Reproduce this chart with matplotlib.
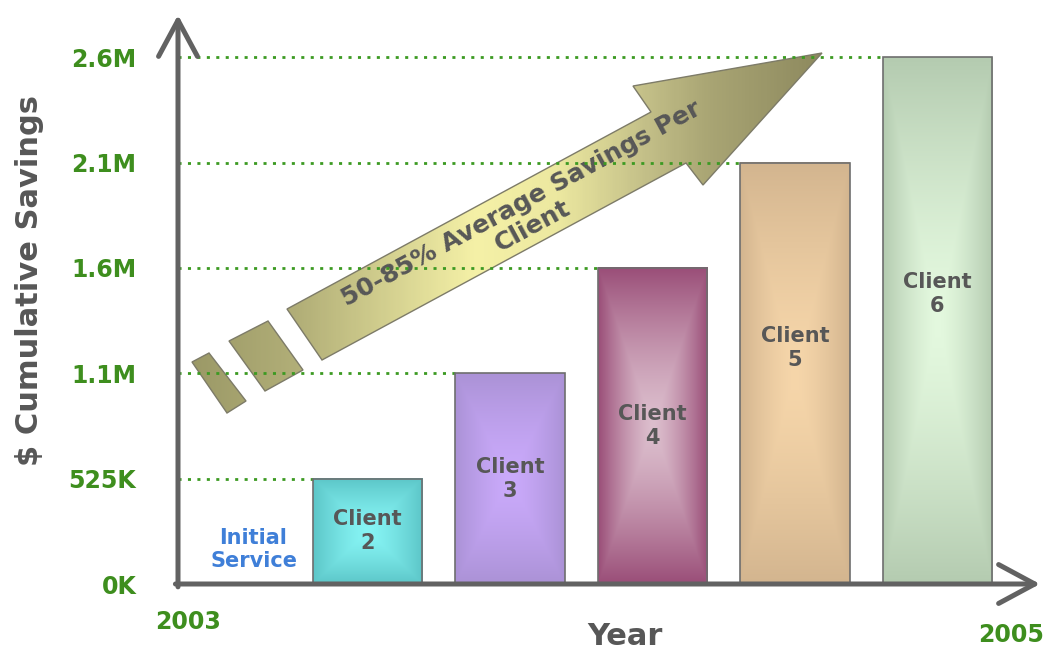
import numpy as np
import matplotlib
matplotlib.use('Agg')
import matplotlib.pyplot as plt
from matplotlib.colors import to_rgb, LinearSegmentedColormap
from matplotlib.patches import Polygon

plt.rcParams['font.family'] = 'DejaVu Sans'

# data --------------------------------------------------------------
clients = ['Client\n2', 'Client\n3', 'Client\n4', 'Client\n5', 'Client\n6']
savings_k = [525, 1100, 1600, 2100, 2600]
tick_values = [0, 525, 1100, 1600, 2100, 2600]
tick_labels = ['0K', '525K', '1.1M', '1.6M', '2.1M', '2.6M']
edge_colors = ['#5cc6c8', '#ab92d6', '#9a4e78', '#d3b58f', '#b4cbb0']
center_colors = ['#86f4f4', '#caaafb', '#dcbecd', '#f6d6aa', '#e4f9df']
label_frac = [0.5, 0.5, 0.5, 0.56, 0.55]

green = '#3e8e1e'
gray_txt = '#575757'
axis_gray = '#626262'

# y axis: tick values are equally spaced on the chart
scale_vals = tick_values + [3100]
scale_pos = list(range(len(scale_vals)))


def forward(v):
    return np.interp(v, scale_vals, scale_pos)


def inverse(p):
    return np.interp(p, scale_pos, scale_vals)


fig = plt.figure(figsize=(10.48, 6.52), dpi=100)
bg = fig.add_axes([0, 0, 1, 1], zorder=0)
bg.axis('off')
ax = fig.add_axes([178 / 1048, 68 / 652, 862 / 1048, 569 / 652], zorder=1)
ax.patch.set_alpha(0)

ax.set_yscale('function', functions=(forward, inverse))
ax.set_xlim(-0.33, 5.72)
ax.set_ylim(0, 2800)

x = np.arange(1, len(savings_k) + 1)
width = 0.766
bars = ax.bar(x, savings_k, width=width, facecolor='none',
              edgecolor='#6e6e6e', lw=1.2, zorder=3)

# dotted guide lines from the axis to each bar
ax.hlines(savings_k, ax.get_xlim()[0], x - width / 2, colors='#3c9a22',
          lw=2.0, linestyles=(0, (1.1, 2.3)), zorder=2)

for xi, v, lab, f in zip(x, savings_k, clients, label_frac):
    ax.text(xi, inverse(forward(v) * f), lab, ha='center', va='center',
            fontsize=15, fontweight='bold', color=gray_txt, zorder=4,
            linespacing=1.25)

ax.text(0.2, 0.06, 'Initial\nService', transform=ax.get_xaxis_transform(),
        ha='center', va='center', fontsize=15, fontweight='bold',
        color='#3f7fd8', linespacing=1.2)

# axes with arrow heads
for spine in ax.spines.values():
    spine.set_visible(False)
arrow_kw = dict(arrowstyle='->,head_length=1.3,head_width=0.7', lw=3.6,
                color=axis_gray, shrinkA=0, shrinkB=0, mutation_scale=20)
ax.annotate('', xy=(0, 1), xytext=(0, -0.005), xycoords='axes fraction',
            arrowprops=arrow_kw, annotation_clip=False)
ax.annotate('', xy=(1, 0), xytext=(-0.003, 0), xycoords='axes fraction',
            arrowprops=arrow_kw, annotation_clip=False)

ax.set_xticks([])
ax.set_yticks(tick_values, tick_labels)
ax.tick_params(axis='y', length=0, pad=30, labelsize=17, labelcolor=green)
for t in ax.get_yticklabels():
    t.set_fontweight('bold')

ax.set_ylabel('$ Cumulative Savings', fontsize=22, fontweight='bold',
              color=gray_txt, va='center')
ax.yaxis.set_label_coords(-0.172, 0.534)
ax.set_xlabel('Year', fontsize=22, fontweight='bold', color=gray_txt,
              va='center')
ax.xaxis.set_label_coords(0.5186, -0.0914)

ax.text(0.0116, -0.067, '2003', transform=ax.transAxes, ha='center',
        va='center', fontsize=17, fontweight='bold', color=green)
ax.text(0.966, -0.090, '2005', transform=ax.transAxes, ha='center',
        va='center', fontsize=17, fontweight='bold', color=green)

# gradient fills for the bars (drawn underneath in pixel space)
fig.canvas.draw()
u = np.linspace(-1, 1, 120)
vv = np.linspace(-1, 1, 240)
U, V = np.meshgrid(u, vv)
tt = np.maximum(np.abs(U), np.abs(V)) ** 1.4
for bar, ce, cc in zip(bars, edge_colors, center_colors):
    bb = bar.get_window_extent()
    img = (np.array(to_rgb(cc))[None, None, :] * (1 - tt)[..., None]
           + np.array(to_rgb(ce))[None, None, :] * tt[..., None])
    bg.imshow(img, extent=(bb.x0, bb.x1, bb.y0, bb.y1), aspect='auto',
              interpolation='bilinear', zorder=1)

# big trend arrow (pixel coords, y measured from top)
H = 652
arrow_pts = [(287, 309), (651, 112), (633, 86), (822, 53), (703, 185),
             (686, 163), (322, 360)]
rect1 = [(192, 362), (209, 353), (246, 401), (227, 413)]
rect2 = [(229, 341), (268, 321), (303, 370), (265, 391)]

olive = LinearSegmentedColormap.from_list('olive', [
    (0.0, '#9b9967'), (0.17, '#b2af78'), (0.45, '#f5f1a7'),
    (0.58, '#ece8a0'), (0.72, '#c3bf88'), (0.82, '#a9a574'),
    (1.0, '#8d895e')])
grad = np.linspace(0, 1, 300)[None, :]
for pts in [rect1, rect2, arrow_pts]:
    poly = Polygon([(px, H - py) for px, py in pts], closed=True,
                   facecolor='none', edgecolor='#7d7b68', lw=1.0, zorder=3)
    bg.add_patch(poly)
    im = bg.imshow(grad, cmap=olive, extent=(190, 825, 40, 620),
                   aspect='auto', interpolation='bilinear', zorder=2)
    im.set_clip_path(poly)

bg.text(527, H - 215, '50-85% Average Savings Per\nClient', rotation=28.5,
        rotation_mode='anchor', ha='center', va='center', fontsize=18,
        fontweight='bold', color=gray_txt, linespacing=1.05, zorder=4)

bg.set_xlim(0, 1048)
bg.set_ylim(0, 652)

fig.savefig('out.png', dpi=100)
